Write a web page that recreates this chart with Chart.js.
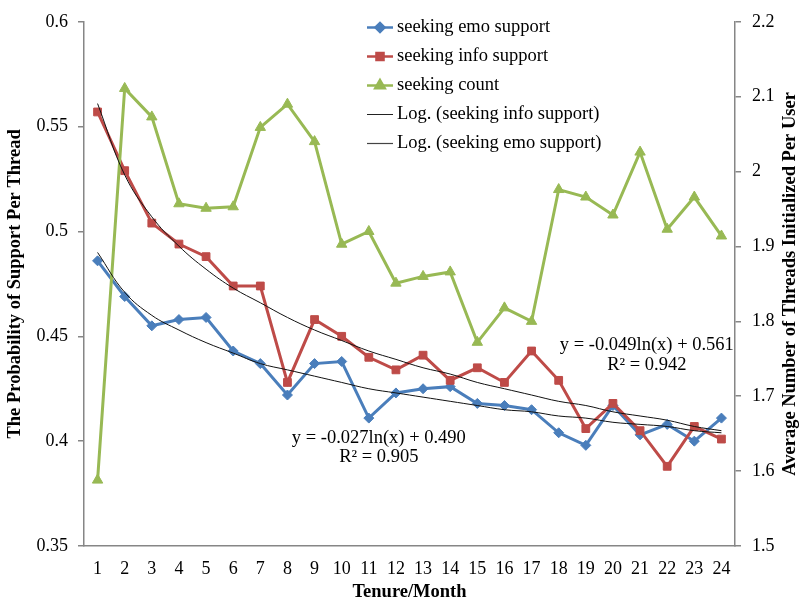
<!DOCTYPE html>
<html>
<head>
<meta charset="utf-8">
<script src="https://cdn.jsdelivr.net/npm/chart.js@4.4.0/dist/chart.umd.min.js"></script>
<style>
  html, body { margin: 0; padding: 0; background: #fff; }
  #wrap { width: 800px; height: 603px; }
</style>
</head>
<body>
<div id="wrap"><canvas id="lineChart" width="800" height="603"></canvas></div>
<script>
// tenure months
var months = ['1','2','3','4','5','6','7','8','9','10','11','12','13','14','15','16','17','18','19','20','21','22','23','24'];

// left axis values
var emoSupport  = [0.486,0.469,0.455,0.458,0.459,0.443,0.437,0.422,0.437,0.438,0.411,0.423,0.425,0.426,0.418,0.417,0.415,0.404,0.398,0.417,0.403,0.408,0.400,0.411];
var infoSupport = [0.557,0.529,0.504,0.494,0.488,0.474,0.474,0.428,0.458,0.450,0.440,0.434,0.441,0.429,0.435,0.428,0.443,0.429,0.406,0.418,0.405,0.388,0.407,0.401];

// right axis values
var seekingCount = [1.588,2.111,2.073,1.957,1.951,1.953,2.059,2.090,2.040,1.903,1.920,1.851,1.860,1.866,1.772,1.818,1.800,1.976,1.966,1.942,2.026,1.923,1.966,1.914];

// log trendlines as shown in the picture
var infoTrend = [0.561,0.527,0.507,0.493,0.482,0.473,0.466,0.459,0.453,0.448,0.443,0.439,0.435,0.432,0.428,0.425,0.422,0.419,0.417,0.414,0.412,0.410,0.407,0.405];
var emoTrend  = [0.490,0.471,0.460,0.453,0.447,0.442,0.437,0.434,0.431,0.428,0.425,0.423,0.421,0.419,0.417,0.415,0.414,0.412,0.411,0.409,0.408,0.407,0.405,0.404];

var leftTicks  = [0.35,0.4,0.45,0.5,0.55,0.6];
var rightTicks = [1.5,1.6,1.7,1.8,1.9,2,2.1,2.2];

var serif = '"Liberation Serif", "DejaVu Serif", serif';
var axisGray = '#868686';
var blue = '#4a7ebb', red = '#be4b48', green = '#98b954';

var legendItems = [
    { text: 'seeking emo support', color: blue, style: 'rectRot', r: 4.5, w: 2.5 },
    { text: 'seeking info support', color: red, style: 'rect', r: 5, w: 2.5 },
    { text: 'seeking count', color: green, style: 'triangle', r: 5.5, w: 2.5 },
    { text: 'Log. (seeking info support)', color: '#222', style: null, w: 1 },
    { text: 'Log. (seeking emo support)', color: '#444', style: null, w: 1.2 }
];

var extras = {
    id: 'extras',
    afterDraw: function(chart) {
        var ctx = chart.ctx;
        var x = chart.scales.x, y = chart.scales.y;
        ctx.save();
        ctx.fillStyle = '#000';
        ctx.font = '18.5px ' + serif;
        ctx.textAlign = 'center';
        ctx.textBaseline = 'middle';
        // equations
        ctx.fillText('y = -0.049ln(x) + 0.561', x.getPixelForValue(20.25), y.getPixelForValue(0.4456));
        ctx.fillText('R\u00b2 = 0.942', x.getPixelForValue(20.25), y.getPixelForValue(0.4362));
        ctx.fillText('y = -0.027ln(x) + 0.490', x.getPixelForValue(10.37), y.getPixelForValue(0.4013));
        ctx.fillText('R\u00b2 = 0.905', x.getPixelForValue(10.37), y.getPixelForValue(0.3924));

        // legend
        var lx = 367, ly = 27.5, step = 29;
        ctx.textAlign = 'left';
        ctx.font = '18.5px ' + serif;
        legendItems.forEach(function(it, i) {
            var yy = ly + i * step;
            ctx.strokeStyle = it.color;
            ctx.lineWidth = it.w;
            ctx.beginPath();
            ctx.moveTo(lx, yy);
            ctx.lineTo(lx + 26, yy);
            ctx.stroke();
            if (it.style) {
                ctx.fillStyle = it.color;
                ctx.strokeStyle = it.color;
                Chart.helpers.drawPoint(ctx, { pointStyle: it.style, radius: it.r, borderWidth: 1 }, lx + 13, yy);
            }
            ctx.fillStyle = '#000';
            ctx.fillText(it.text, lx + 30, yy);
        });

        // right axis title, reading bottom to top
        var r = chart.scales.y1;
        ctx.font = 'bold 18.5px ' + serif;
        ctx.translate(790, (r.top + r.bottom) / 2);
        ctx.rotate(-Math.PI / 2);
        ctx.textAlign = 'center';
        ctx.fillText('Average Number of Threads Initialized Per User', 0, 0);
        ctx.restore();
    }
};

var ctx = document.getElementById('lineChart').getContext('2d');
var myChart = new Chart(ctx, {
    type: 'line',
    data: {
        labels: months,
        datasets: [{
                label: 'Log. (seeking info support)',
                data: infoTrend,
                yAxisID: 'y',
                borderColor: '#111',
                borderWidth: 1,
                pointRadius: 0,
                tension: 0.4,
                order: 1
            },
            {
                label: 'Log. (seeking emo support)',
                data: emoTrend,
                yAxisID: 'y',
                borderColor: '#111',
                borderWidth: 1,
                pointRadius: 0,
                tension: 0.4,
                order: 1
            },
            {
                label: 'seeking count',
                data: seekingCount,
                yAxisID: 'y1',
                borderColor: green,
                backgroundColor: green,
                borderWidth: 3,
                pointStyle: 'triangle',
                pointRadius: 6,
                pointBorderWidth: 1,
                order: 2
            },
            {
                label: 'seeking info support',
                data: infoSupport,
                yAxisID: 'y',
                borderColor: red,
                backgroundColor: red,
                borderWidth: 3,
                pointStyle: 'rect',
                pointRadius: 5.5,
                pointBorderWidth: 1,
                order: 3
            },
            {
                label: 'seeking emo support',
                data: emoSupport,
                yAxisID: 'y',
                borderColor: blue,
                backgroundColor: blue,
                borderWidth: 3,
                pointStyle: 'rectRot',
                pointRadius: 5,
                pointBorderWidth: 1,
                order: 4
            }
        ]
    },
    options: {
        responsive: false,
        animation: false,
        layout: { padding: { top: 15, left: 0, right: 0, bottom: 0 } },
        plugins: {
            legend: { display: false },
            tooltip: { enabled: false }
        },
        scales: {
            x: {
                offset: true,
                grid: { display: false, drawTicks: false },
                border: { display: true, color: axisGray, width: 1.5 },
                ticks: { color: '#000', font: { family: serif, size: 18 }, padding: 12, maxRotation: 0, autoSkip: false },
                title: { display: true, text: 'Tenure/Month', color: '#000', font: { family: serif, size: 18.5, weight: 'bold' }, padding: { top: 4, bottom: 0 } },
                afterFit: function(s) { s.height = 57; }
            },
            y: {
                position: 'left',
                min: 0.35,
                max: 0.6,
                afterBuildTicks: function(s) { s.ticks = leftTicks.map(function(v) { return { value: v }; }); },
                grid: { display: true, drawOnChartArea: false, tickLength: 6, color: axisGray, lineWidth: 1.5 },
                border: { display: true, color: axisGray, width: 1.5 },
                ticks: { color: '#000', font: { family: serif, size: 18 }, padding: 10, callback: function(v) { return String(v); } },
                title: { display: true, text: 'The Probability of Support Per Thread', color: '#000', font: { family: serif, size: 18.5, weight: 'bold' }, padding: { top: 4, bottom: 0 } },
                afterFit: function(s) { s.width = 84; }
            },
            y1: {
                position: 'right',
                min: 1.5,
                max: 2.2,
                afterBuildTicks: function(s) { s.ticks = rightTicks.map(function(v) { return { value: v }; }); },
                grid: { display: true, drawOnChartArea: false, tickLength: 6, color: axisGray, lineWidth: 1.5 },
                border: { display: true, color: axisGray, width: 1.5 },
                ticks: { color: '#000', font: { family: serif, size: 18 }, padding: 11, callback: function(v) { return String(v); } },
                afterFit: function(s) { s.width = 65; }
            }
        }
    },
    plugins: [extras]
});
</script>
</body>
</html>
